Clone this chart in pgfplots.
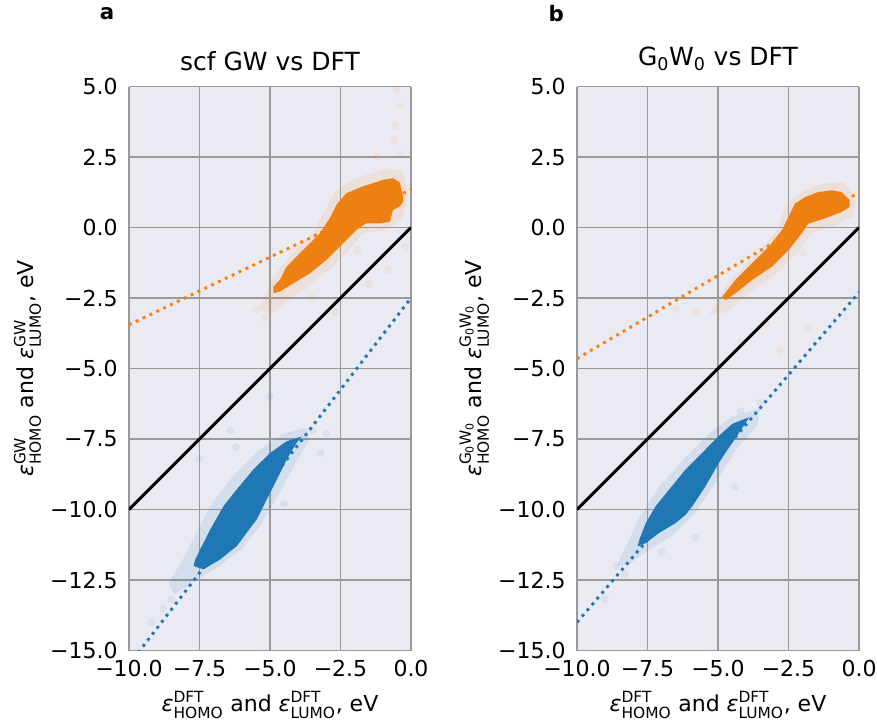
\documentclass[border=0pt]{standalone}
\usepackage{amsmath}
\usepackage{fontspec}
\setmainfont{DejaVu Sans}
\usepackage{pgfplots}
\pgfplotsset{compat=1.18}

\definecolor{bgc}{RGB}{234,234,242}
\definecolor{cor}{RGB}{255,127,14}
\definecolor{cbl}{RGB}{31,119,180}
\definecolor{cor2}{RGB}{236,128,18}

\newcommand{\eps}[2]{$\text{\itshape ε}^{\text{#1}}_{\text{#2}}$}

\pgfplotsset{
  panel/.style={
    width=211.5pt,height=423pt,scale only axis,
    xmin=-10,xmax=0,ymin=-15,ymax=5,
    xtick={-10,-7.5,-5,-2.5,0},
    xticklabels={−10.0,−7.5,−5.0,−2.5,0.0},
    ytick={-15,-12.5,-10,-7.5,-5,-2.5,0,2.5,5},
    yticklabels={−15.0,−12.5,−10.0,−7.5,−5.0,−2.5,0.0,2.5,5.0},
    major tick length=0pt,
    axis line style={draw=none},
    axis background/.style={fill=bgc},
    grid=major,grid style={gray!80,line width=1.1pt},
    tick label style={font=\fontsize{16.5}{18}\selectfont},
    label style={font=\fontsize{16.5}{18}\selectfont},
    xlabel style={yshift=-4pt},
    title style={font=\fontsize{18.75}{20}\selectfont,yshift=2pt},
    xticklabel style={yshift=-4pt},
    yticklabel style={xshift=-5pt},
  },
  core/.style={draw=none,fill=#1,fill opacity=1},
  halo/.style={draw=none,fill=#1,fill opacity=0.11},
  sparse/.style={only marks,mark=*,mark size=2.6pt,color=#1,opacity=0.07},
  fitl/.style={color=#1,line width=2.2pt,line cap=butt,dash pattern=on 2.2pt off 3.5pt},
}

\begin{document}
\begin{tikzpicture}
\useasboundingbox (-96.75pt,-52.1pt) rectangle (561pt,487.9pt);

% ---- panel a ----
\begin{axis}[panel,at={(0pt,0pt)},anchor=south west,
  title={scf GW vs DFT},
  xlabel={\eps{DFT}{HOMO} and \eps{DFT}{LUMO}, eV},
  ylabel={\eps{GW}{HOMO} and \eps{GW}{LUMO}, eV}]
\addplot[halo=cor] coordinates {(-5.4,-2.9)(-4.9,-1.8)(-4.3,-1.0)(-3.5,-0.2)(-3.0,0.7)(-2.6,1.4)(-1.8,1.8)(-0.8,2.1)(-0.3,2.0)(-0.1,1.2)(-0.3,0.3)(-0.9,-0.1)(-1.7,-0.2)(-2.2,-0.8)(-2.9,-1.5)(-3.7,-2.1)(-4.5,-2.7)(-5.0,-3.1)} -- cycle;
\addplot[core=cor2] coordinates {(-4.65,-1.86)(-4.41,-1.39)(-3.82,-0.79)(-3.23,-0.20)(-2.88,0.33)(-2.64,0.81)(-2.29,1.22)(-1.70,1.46)(-0.99,1.69)(-0.64,1.75)(-0.40,1.60)(-0.30,1.20)(-0.27,0.92)(-0.40,0.75)(-0.64,0.62)(-0.75,0.21)(-1.05,0.15)(-1.58,0.15)(-1.93,-0.08)(-2.41,-0.56)(-3.00,-1.15)(-3.58,-1.62)(-4.17,-1.98)(-4.65,-2.27)(-4.88,-2.33)(-4.88,-2.10)} -- cycle;
\addplot[sparse=cor] coordinates {(-0.5,4.9)(-0.4,4.3)(-0.55,3.6)(-0.6,3.1)(-0.4,2.6)(-1.2,2.5)(-0.8,-1.5)(-0.2,-0.7)(-1.5,-2.0)(-2.7,-3.0)(-5.5,-2.9)(-5.2,-3.2)(-3.5,-2.5)(-1.9,-0.8)};
\addplot[halo=cbl] coordinates {(-3.7,-7.1)(-4.5,-7.3)(-5.4,-7.9)(-6.3,-8.8)(-7.0,-9.7)(-7.6,-10.8)(-8.1,-11.8)(-8.6,-12.6)(-8.4,-13.0)(-7.6,-12.5)(-6.8,-12.0)(-6.0,-11.4)(-5.3,-10.5)(-4.6,-9.3)(-4.0,-8.2)(-3.6,-7.5)} -- cycle;
\addplot[core=cbl] coordinates {(-3.88,-7.41)(-4.41,-7.58)(-5.00,-8.00)(-5.59,-8.58)(-6.18,-9.29)(-6.65,-9.88)(-7.12,-10.71)(-7.48,-11.42)(-7.65,-11.77)(-7.71,-12.00)(-7.36,-12.12)(-6.77,-11.77)(-6.18,-11.30)(-5.83,-10.83)(-5.47,-10.35)(-5.12,-9.65)(-4.76,-8.94)(-4.41,-8.23)(-4.06,-7.64)} -- cycle;
\addplot[sparse=cbl] coordinates {(-8.5,-13.2)(-9.2,-14.0)(-7.5,-8.2)(-6.4,-7.2)(-6.2,-7.8)(-3.5,-7.2)(-3.0,-7.3)(-4.5,-9.8)(-5.0,-6.0)(-8.8,-13.5)(-3.2,-8.0)};
\addplot[black,line width=2.2pt] coordinates {(-10,-10)(0,0)};
\addplot[fitl=cor] coordinates {(-10,-3.45)(0,1.35)};
\addplot[fitl=cbl] coordinates {(-10,-15.5)(0,-2.5)};
\end{axis}
\node[font=\fontsize{16}{18}\selectfont\bfseries] at (-16.5pt,478pt) {a};

% ---- panel b ----
\begin{axis}[panel,at={(336pt,0pt)},anchor=south west,
  title={G\textsubscript{0}W\textsubscript{0} vs DFT},
  xlabel={\eps{DFT}{HOMO} and \eps{DFT}{LUMO}, eV},
  ylabel={$\text{\itshape ε}^{\text{G}_{\text{0}}\text{W}_{\text{0}}}_{\text{HOMO}}$ and $\text{\itshape ε}^{\text{G}_{\text{0}}\text{W}_{\text{0}}}_{\text{LUMO}}$, eV}]
\addplot[halo=cor] coordinates {(-5.3,-3.1)(-4.6,-1.9)(-3.6,-0.9)(-2.9,-0.1)(-2.6,0.8)(-2.0,1.3)(-1.2,1.6)(-0.5,1.6)(-0.1,1.0)(-0.2,0.4)(-1.0,0.0)(-1.7,-0.2)(-2.2,-0.9)(-3.0,-1.7)(-3.9,-2.3)(-4.7,-3.0)} -- cycle;
\addplot[core=cor2] coordinates {(-4.85,-2.45)(-4.38,-1.86)(-3.79,-1.27)(-3.20,-0.68)(-2.73,-0.09)(-2.50,0.38)(-2.27,0.85)(-1.91,1.08)(-1.44,1.26)(-0.97,1.32)(-0.62,1.26)(-0.33,0.97)(-0.33,0.73)(-0.62,0.55)(-1.21,0.32)(-1.80,0.14)(-2.03,-0.21)(-2.50,-0.80)(-3.09,-1.39)(-3.79,-1.86)(-4.38,-2.33)(-4.73,-2.57)} -- cycle;
\addplot[sparse=cor] coordinates {(-6.5,-2.9)(-5.8,-3.0)(-3.3,-3.4)(-2.8,-4.4)(-1.8,-3.6)(-4.2,-4.1)(-2.0,-0.9)};
\addplot[halo=cbl] coordinates {(-3.5,-6.4)(-4.5,-6.7)(-5.3,-7.3)(-6.2,-8.2)(-7.1,-9.2)(-7.8,-10.3)(-8.3,-11.4)(-8.6,-12.0)(-8.1,-11.9)(-7.4,-11.4)(-6.6,-10.9)(-5.8,-10.1)(-5.0,-8.9)(-4.3,-7.8)(-3.6,-7.0)} -- cycle;
\addplot[core=cbl] coordinates {(-3.90,-6.73)(-4.49,-6.96)(-4.96,-7.38)(-5.55,-7.98)(-6.14,-8.57)(-6.73,-9.29)(-7.21,-9.88)(-7.56,-10.48)(-7.79,-11.07)(-7.85,-11.31)(-7.56,-11.19)(-7.09,-10.83)(-6.50,-10.48)(-6.14,-10.18)(-5.91,-9.88)(-5.44,-9.17)(-4.96,-8.33)(-4.49,-7.62)(-4.08,-7.02)} -- cycle;
\addplot[sparse=cbl] coordinates {(-8.3,-12.3)(-8.6,-12.0)(-4.2,-6.5)(-3.5,-6.2)(-4.4,-9.2)(-5.8,-11.0)(-7.0,-11.5)(-9.0,-13.2)};
\addplot[black,line width=2.2pt] coordinates {(-10,-10)(0,0)};
\addplot[fitl=cor] coordinates {(-10,-4.65)(0,1.25)};
\addplot[fitl=cbl] coordinates {(-10,-14.0)(0,-2.3)};
\end{axis}
\node[font=\fontsize{16}{18}\selectfont\bfseries] at (320.5pt,478pt) {b};
\end{tikzpicture}
\end{document}
